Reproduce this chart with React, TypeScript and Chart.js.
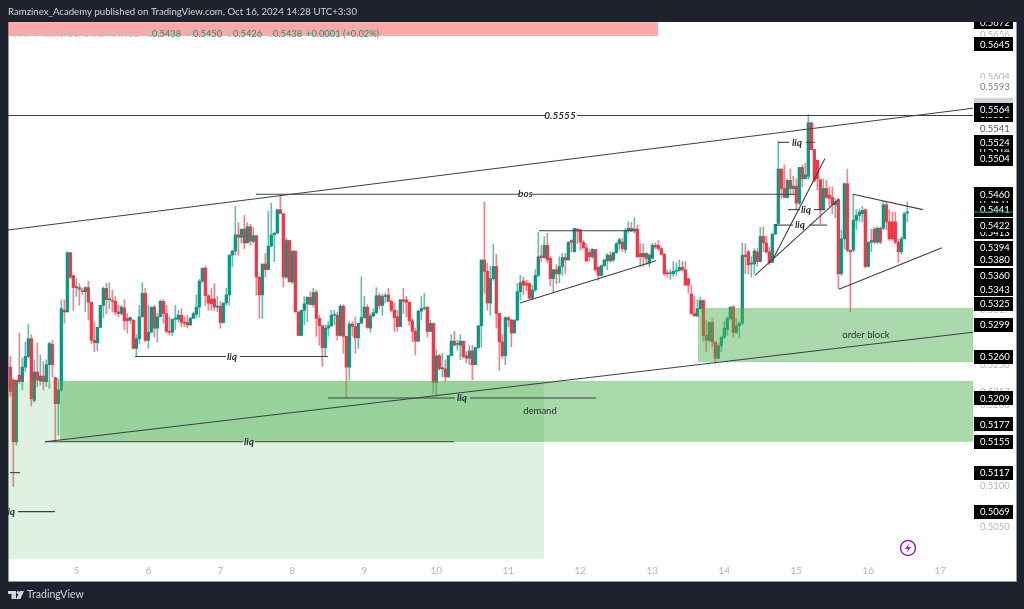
import React, { useEffect, useRef } from "react";
import { Chart, registerables } from "chart.js";

Chart.register(...registerables);

// Hourly candles of XRP / TetherUS, in units of 0.0001 USDT
const opens = [
  5247,5231,5155,5237,5229,5247,5260,5282,5206,5241, 5230,5236,5229,5250,5275,5234,5202,5219,5317,5315,
  5388,5360,5345,5345,5341,5340,5345,5327,5280,5277, 5296,5323,5344,5330,5329,5328,5315,5313,5320,5307,
  5305,5305,5270,5282,5309,5338,5280,5290,5321,5295, 5309,5328,5313,5291,5290,5306,5306,5311,5302,5302,
  5299,5307,5312,5321,5353,5369,5335,5331,5331,5321, 5322,5302,5326,5336,5385,5390,5410,5407,5417,5400,
  5420,5402,5409,5358,5336,5374,5367,5396,5410,5412, 5441,5436,5358,5403,5352,5390,5315,5286,5317,5325,
  5333,5324,5339,5307,5298,5271,5295,5298,5311,5311, 5286,5322,5285,5247,5300,5297,5283,5301,5308,5321,
  5295,5310,5314,5335,5323,5334,5336,5328,5317,5309, 5297,5330,5330,5327,5304,5291,5279,5316,5319,5321,
  5291,5301,5228,5261,5245,5245,5235,5261,5279,5275, 5274,5279,5261,5258,5267,5250,5271,5298,5379,5365,
  5326,5356,5371,5313,5278,5261,5308,5305,5289,5305, 5340,5353,5350,5350,5332,5342,5360,5384,5382,5397,
  5381,5356,5367,5362,5371,5382,5379,5403,5389,5417, 5416,5401,5394,5388,5383,5392,5370,5360,5372,5378,
  5385,5379,5388,5399,5401,5392,5415,5418,5416,5417, 5387,5383,5387,5375,5381,5397,5397,5393,5386,5363,
  5362,5362,5365,5366,5370,5367,5356,5337,5313,5310, 5319,5329,5286,5280,5302,5278,5258,5273,5284,5293,
  5307,5321,5290,5298,5301,5385,5389,5374,5374,5389, 5377,5408,5400,5389,5376,5411,5424,5491,5467,5456,
  5477,5467,5470,5449,5493,5479,5482,5548,5515,5502, 5478,5441,5467,5459,5456,5447,5453,5362,5405,5473,
  5391,5391,5428,5434,5436,5441,5371,5401,5417,5401, 5418,5418,5447,5426,5426,5426,5401,5389,5405,5437,
];
const closes = [
  5217,5155,5231,5229,5247,5260,5282,5208,5241,5231, 5236,5229,5250,5276,5250,5202,5219,5319,5315,5388,
  5358,5345,5346,5343,5340,5345,5327,5280,5277,5296, 5323,5344,5330,5331,5328,5315,5313,5321,5304,5304,
  5308,5270,5282,5309,5338,5280,5290,5321,5295,5309, 5328,5313,5291,5290,5306,5306,5311,5302,5301,5299,
  5307,5313,5321,5353,5369,5335,5326,5325,5321,5322, 5302,5326,5336,5385,5390,5410,5407,5417,5400,5420,
  5402,5409,5358,5336,5374,5367,5396,5410,5412,5441, 5436,5358,5403,5352,5390,5315,5286,5317,5325,5333,
  5324,5339,5307,5298,5271,5295,5298,5311,5311,5286, 5322,5285,5247,5300,5297,5283,5301,5308,5321,5296,
  5310,5314,5335,5323,5334,5334,5328,5317,5308,5297, 5330,5328,5327,5304,5291,5279,5316,5319,5320,5291,
  5301,5228,5261,5245,5245,5235,5261,5279,5274,5275, 5279,5260,5258,5267,5250,5271,5298,5379,5365,5326,
  5356,5371,5313,5278,5261,5308,5305,5289,5305,5340, 5351,5348,5348,5332,5342,5360,5383,5382,5397,5379,
  5356,5367,5362,5371,5382,5379,5401,5401,5418,5415, 5401,5394,5378,5383,5392,5367,5360,5372,5379,5385,
  5378,5388,5399,5404,5393,5415,5418,5415,5417,5383, 5383,5387,5381,5385,5397,5395,5393,5386,5362,5362,
  5362,5365,5366,5370,5367,5348,5348,5313,5310,5319, 5329,5286,5280,5302,5278,5258,5273,5284,5295,5307,
  5321,5290,5298,5301,5385,5383,5373,5374,5390,5377, 5408,5400,5389,5376,5411,5423,5491,5467,5456,5477,
  5467,5470,5449,5493,5479,5484,5548,5515,5477,5479, 5441,5467,5456,5455,5447,5451,5362,5405,5473,5391,
  5389,5428,5434,5438,5440,5371,5401,5403,5401,5418, 5401,5447,5426,5405,5405,5401,5389,5405,5436,5438,
];
const highs = [
  5260,5233,5231,5289,5258,5278,5300,5287,5256,5277, 5262,5254,5256,5278,5280,5235,5233,5330,5330,5389,
  5388,5360,5356,5350,5344,5346,5353,5327,5302,5296, 5323,5346,5350,5351,5342,5334,5323,5323,5330,5313,
  5309,5305,5287,5323,5351,5344,5323,5321,5323,5313, 5330,5330,5323,5309,5306,5323,5317,5319,5309,5311,
  5309,5315,5336,5355,5369,5372,5336,5344,5350,5334, 5328,5326,5344,5385,5391,5445,5425,5417,5434,5425,
  5423,5419,5409,5358,5374,5387,5439,5449,5413,5441, 5459,5436,5406,5403,5390,5390,5315,5317,5334,5334,
  5340,5344,5342,5311,5299,5299,5303,5317,5317,5315, 5324,5324,5285,5303,5303,5309,5301,5358,5334,5324,
  5313,5319,5345,5338,5337,5338,5344,5330,5326,5317, 5330,5344,5334,5327,5307,5295,5317,5334,5338,5321,
  5305,5301,5269,5263,5264,5256,5262,5287,5291,5280, 5287,5279,5266,5274,5274,5272,5298,5379,5450,5375,
  5371,5398,5386,5313,5287,5309,5309,5306,5305,5350, 5360,5358,5354,5351,5348,5367,5413,5397,5408,5412,
  5383,5367,5373,5383,5387,5387,5401,5404,5418,5418, 5417,5403,5399,5392,5393,5392,5371,5373,5380,5387,
  5389,5389,5401,5406,5406,5418,5426,5425,5431,5422, 5399,5399,5388,5387,5399,5400,5403,5395,5387,5367,
  5367,5377,5375,5379,5377,5377,5356,5348,5334,5330, 5333,5330,5305,5303,5307,5278,5276,5284,5303,5309,
  5321,5323,5307,5303,5400,5399,5391,5383,5393,5393, 5419,5420,5408,5395,5411,5423,5525,5491,5496,5479,
  5491,5482,5479,5493,5496,5498,5558,5549,5515,5502, 5478,5479,5477,5469,5469,5455,5455,5416,5474,5491,
  5391,5460,5441,5442,5445,5442,5401,5417,5419,5420, 5420,5451,5451,5441,5438,5438,5405,5408,5438,5450,
];
const lows = [
  5211,5100,5151,5227,5219,5241,5258,5199,5204,5223, 5225,5219,5223,5221,5235,5155,5163,5217,5301,5315,
  5356,5317,5334,5323,5336,5315,5305,5276,5266,5267, 5295,5308,5313,5319,5315,5311,5309,5311,5293,5289,
  5301,5270,5260,5276,5309,5278,5270,5289,5284,5278, 5309,5301,5289,5287,5286,5293,5303,5297,5297,5295,
  5298,5307,5308,5309,5351,5323,5317,5317,5317,5315, 5295,5301,5323,5323,5371,5385,5385,5400,5393,5400,
  5397,5400,5336,5307,5307,5358,5367,5395,5377,5412, 5436,5346,5356,5352,5350,5315,5286,5286,5299,5303,
  5324,5321,5285,5274,5248,5261,5285,5297,5299,5280, 5285,5264,5209,5231,5285,5264,5270,5301,5307,5295,
  5290,5309,5313,5319,5311,5326,5328,5315,5291,5291, 5297,5313,5309,5299,5278,5262,5278,5305,5317,5284,
  5291,5215,5213,5243,5235,5229,5234,5261,5273,5268, 5256,5258,5252,5250,5231,5250,5270,5272,5338,5317,
  5311,5354,5295,5243,5258,5250,5297,5272,5295,5304, 5330,5336,5341,5331,5330,5340,5358,5377,5381,5375,
  5347,5338,5350,5351,5360,5362,5379,5389,5389,5399, 5391,5393,5377,5377,5381,5365,5354,5359,5371,5367,
  5376,5377,5387,5391,5389,5388,5412,5414,5412,5382, 5371,5371,5373,5371,5380,5393,5391,5385,5360,5358,
  5355,5359,5360,5365,5365,5348,5338,5312,5310,5309, 5318,5279,5266,5278,5272,5252,5257,5266,5282,5286,
  5305,5284,5288,5283,5299,5362,5362,5358,5362,5371, 5377,5389,5387,5373,5376,5410,5423,5455,5456,5455,
  5459,5459,5441,5447,5469,5479,5479,5514,5475,5465, 5424,5441,5455,5445,5436,5431,5344,5360,5393,5389,
  5315,5389,5416,5426,5426,5369,5370,5389,5399,5399, 5399,5416,5416,5403,5403,5399,5376,5386,5405,5426,
];

const firstCandleDay = 5 - 22 / 24;
const dayTicks = [5, 6, 7, 8, 9, 10, 11, 12, 13, 14, 15, 16, 17];
const greyPriceTicks = [0.5656, 0.5604, 0.525, 0.5217, 0.52, 0.5317, 0.515, 0.51, 0.505];
const whitePriceTags = [0.5593, 0.5541];
const blankPriceTag = 0.557;
const hiddenPriceTags = [0.5672, 0.5558, 0.5514, 0.5451, 0.5413];
const frontPriceTags = [
  0.5645, 0.5564, 0.5524, 0.5504, 0.546, 0.5441, 0.5422, 0.5394, 0.538, 0.536, 0.5343, 0.5325,
  0.5299, 0.526, 0.5209, 0.5177, 0.5155, 0.5117, 0.5069,
];
const lastClose = 0.5438;

// [fromDay, toDay, topPrice, bottomPrice]
const redZone = [4.051, 13.079, 0.5672, 0.5655];
const paleDemandZone = [4.051, 11.495, 0.523, 0.5011];
const demandZone = [4.773, 17.454, 0.523, 0.5155];
const orderBlockZone = [13.634, 17.454, 0.532, 0.5253];

// Drawn segments: [day1, price1, day2, price2]
const drawnSegments = [
  [4.051, 0.5557, 11.523, 0.5557],
  [11.954, 0.5557, 17.454, 0.5557],
  [4.051, 0.5416, 17.454, 0.5566],
  [7.495, 0.546, 11.148, 0.546],
  [11.329, 0.546, 14.98, 0.546],
  [4.565, 0.5155, 17.454, 0.529],
  [5.815, 0.526, 7.079, 0.526],
  [7.273, 0.526, 8.495, 0.526],
  [8.495, 0.5209, 10.259, 0.5209],
  [10.467, 0.5209, 12.218, 0.5209],
  [4.565, 0.5155, 7.315, 0.5155],
  [7.482, 0.5155, 10.245, 0.5155],
  [4.19, 0.5069, 4.704, 0.5069],
  [4.079, 0.5117, 4.218, 0.5117],
  [14.745, 0.5524, 14.898, 0.5524],
  [15.134, 0.5524, 15.259, 0.5524],
  [14.884, 0.5441, 15.051, 0.5441],
  [15.245, 0.5441, 15.398, 0.5441],
  [14.704, 0.5422, 14.954, 0.5422],
  [15.176, 0.5422, 15.426, 0.5422],
  [14.426, 0.536, 15.592, 0.5454],
  [14.675, 0.538, 15.398, 0.5504],
  [11.426, 0.5415, 12.773, 0.5415],
  [11.162, 0.5326, 13.05, 0.5378],
  [15.786, 0.546, 16.758, 0.5441],
  [15.592, 0.5343, 17.023, 0.5394],
];

// [text, day, price]
const italicNotes: [string, number, number][] = [
  ["0.5555", 11.718, 0.5557],
  ["bos", 11.238, 0.546],
  ["liq", 7.162, 0.526],
  ["liq", 10.356, 0.5209],
  ["liq", 7.398, 0.5155],
  ["liq", 4.079, 0.5069],
  ["liq", 15.009, 0.5524],
  ["liq", 15.134, 0.5441],
  ["liq", 15.051, 0.5422],
];
const plainNotes: [string, number, number][] = [
  ["demand", 11.44, 0.5193],
  ["order block", 15.967, 0.5287],
];

const titleText = "Ramzinex_Academy published on TradingView.com, Oct 16, 2024 14:28 UTC+3:30";
const legendSymbol = "XRP / TetherUS, 1h, BINANCE";
const legendValues = [
  ["O", "0.5438"],
  ["H", "0.5450"],
  ["L", "0.5426"],
  ["C", "0.5438"],
];
const legendChange = "+0.0001 (+0.02%)";

const UP = "#089981";
const DOWN = "#f23645";
const UP_WICK = "rgba(8,153,129,0.62)";
const DOWN_WICK = "rgba(242,54,69,0.62)";
const FONT = 'Lato, sans-serif';

const stylePlugin = {
  id: "tvFrame",
  beforeDraw(chart: any) {
    const c = chart.ctx;
    c.save();
    c.fillStyle = "#1e222d";
    c.fillRect(0, 0, 1024, 609);
    c.fillStyle = "#ffffff";
    c.fillRect(8, 22, 1008, 559);
    c.strokeStyle = "#9598a1";
    c.lineWidth = 1;
    c.beginPath();
    c.moveTo(8.5, 22);
    c.lineTo(8.5, 581.5);
    c.lineTo(1016.5, 581.5);
    c.lineTo(1016.5, 22);
    c.stroke();
    c.restore();
  },
  afterDatasetDraw(chart: any, args: any) {
    if (chart.data.datasets[args.index].label !== "bodies") return;
    const c = chart.ctx;
    const { x, y } = chart.scales;
    const zone = (z: number[], col: string) => {
      c.fillStyle = col;
      const l = x.getPixelForValue(z[0]);
      const t = y.getPixelForValue(z[2]);
      c.fillRect(l, t, x.getPixelForValue(z[1]) - l, y.getPixelForValue(z[3]) - t);
    };
    c.save();
    zone(paleDemandZone, "rgba(76,175,80,0.18)");
    zone(demandZone, "rgba(76,175,80,0.48)");
    zone(orderBlockZone, "rgba(76,175,80,0.48)");
    zone(redZone, "rgba(255,82,82,0.5)");
    c.restore();
  },
  afterDraw(chart: any) {
    const c = chart.ctx;
    const { x, y } = chart.scales;
    const area = chart.chartArea;
    c.save();

    // notes placed on the chart
    c.save();
    c.beginPath();
    c.rect(area.left, area.top, area.right - area.left, area.bottom - area.top);
    c.clip();
    c.textAlign = "center";
    c.textBaseline = "middle";
    c.fillStyle = "#2a2e39";
    c.font = `italic 700 10px ${FONT}`;
    italicNotes.forEach(([t, d, p]) => c.fillText(t, x.getPixelForValue(d), y.getPixelForValue(p)));
    c.font = `9.5px ${FONT}`;
    plainNotes.forEach(([t, d, p]) => c.fillText(t, x.getPixelForValue(d), y.getPixelForValue(p)));
    c.restore();

    // price tags
    c.save();
    c.beginPath();
    c.rect(973, 22, 43, 559);
    c.clip();
    const tag = (p: number, bg: string, fg: string) => {
      const py = y.getPixelForValue(p);
      c.fillStyle = bg;
      c.fillRect(974, Math.round(py) - 7, 39, 14);
      c.fillStyle = fg;
      c.textAlign = "left";
      c.textBaseline = "middle";
      c.font = `9.5px ${FONT}`;
      c.fillText(p.toFixed(4), 980, py + 0.5);
    };
    whitePriceTags.forEach((p, i) => tag(p, "#ffffff", i === 0 ? "#787b86" : "#50535e"));
    tag(blankPriceTag, "#d1d4dc", "#d1d4dc");
    hiddenPriceTags.forEach((p) => tag(p, "#000000", "#ffffff"));
    frontPriceTags.forEach((p) => tag(p, "#000000", "#ffffff"));
    c.fillStyle = UP;
    c.fillRect(974, Math.round(y.getPixelForValue(lastClose)) - 0.5, 39, 1);
    c.restore();

    // header
    c.textBaseline = "middle";
    c.textAlign = "left";
    c.fillStyle = "#d1d4dc";
    c.font = `9.65px ${FONT}`;
    c.fillText(titleText, 8, 12);

    // legend row
    c.font = `9.3px ${FONT}`;
    c.fillStyle = "#bdbfc6";
    c.fillText(legendSymbol, 14.5, 33.5);
    const starts = [146, 187, 227, 267];
    legendValues.forEach(([k, v], i) => {
      c.fillStyle = "#bdbfc6";
      c.fillText(k, starts[i], 33.5);
      c.fillStyle = UP;
      c.fillText(v, starts[i] + 6, 33.5);
    });
    c.fillStyle = UP;
    c.fillText(legendChange, 306, 33.5);

    // footer logo
    c.fillStyle = "#d1d4dc";
    c.fillRect(8, 591, 8, 3);
    c.fillRect(11.5, 591, 4.5, 8);
    c.beginPath();
    c.arc(18.2, 592.6, 1.6, 0, Math.PI * 2);
    c.fill();
    c.beginPath();
    c.moveTo(20, 591);
    c.lineTo(24, 591);
    c.lineTo(20.5, 599);
    c.lineTo(16, 599);
    c.closePath();
    c.fill();
    c.font = `10.5px ${FONT}`;
    c.fillStyle = "#d1d4dc";
    c.fillText("TradingView", 27, 595);

    // bolt badge
    c.strokeStyle = "#9c27b0";
    c.fillStyle = "#9c27b0";
    c.lineWidth = 1.5;
    c.beginPath();
    c.arc(908, 548, 7.5, 0, Math.PI * 2);
    c.stroke();
    c.beginPath();
    c.moveTo(909.5, 543);
    c.lineTo(905, 549);
    c.lineTo(908, 549);
    c.lineTo(906.5, 553);
    c.lineTo(911, 547);
    c.lineTo(908, 547);
    c.closePath();
    c.fill();
    c.restore();
  },
};

export default function App() {
  const ref = useRef<HTMLCanvasElement | null>(null);
  useEffect(() => {
    document.body.style.margin = "0";
    document.body.style.background = "#1e222d";
    const days = opens.map((_, i) => firstCandleDay + i / 24);
    const bodyColors = opens.map((o, i) => (closes[i] >= o ? UP : DOWN));
    const wickColors = opens.map((o, i) => (closes[i] >= o ? UP_WICK : DOWN_WICK));
    const chart = new Chart(ref.current as HTMLCanvasElement, {
      type: "bar",
      plugins: [stylePlugin],
      data: {
        datasets: [
          {
            label: "wicks",
            order: 3,
            grouped: false,
            barThickness: 1,
            backgroundColor: wickColors,
            borderWidth: 0,
            data: days.map((d, i) => ({ x: d, y: [lows[i] / 10000, highs[i] / 10000] })),
          },
          {
            label: "bodies",
            order: 2,
            grouped: false,
            barThickness: 2.6,
            minBarLength: 1,
            backgroundColor: bodyColors,
            borderWidth: 0,
            data: days.map((d, i) => ({ x: d, y: [opens[i] / 10000, closes[i] / 10000] })),
          },
          ...drawnSegments.map((s) => ({
            type: "line",
            order: 1,
            borderColor: "#3d4048",
            borderWidth: 1.1,
            pointRadius: 0,
            data: [
              { x: s[0], y: s[1] },
              { x: s[2], y: s[3] },
            ],
          })),
        ],
      } as any,
      options: {
        responsive: false,
        animation: false,
        events: [],
        layout: { padding: { left: 8, top: 22, right: 8, bottom: 28 } },
        plugins: { legend: { display: false }, tooltip: { enabled: false }, title: { display: false } },
        scales: {
          x: {
            type: "linear",
            offset: false,
            min: 4.051,
            max: 17.454,
            grid: { display: false, drawTicks: false },
            border: { display: false },
            afterBuildTicks: (s: any) => {
              s.ticks = dayTicks.map((value) => ({ value }));
            },
            afterFit: (s: any) => {
              s.height = 22;
            },
            ticks: {
              autoSkip: false,
              maxRotation: 0,
              padding: 6,
              color: "#b2b5be",
              font: { family: "Lato", size: 10 },
              callback: (v: any) => String(v),
            },
          },
          y: {
            type: "linear",
            position: "right",
            min: 0.50106,
            max: 0.56722,
            grid: { display: false, drawTicks: false },
            border: { display: false },
            afterBuildTicks: (s: any) => {
              s.ticks = greyPriceTicks.map((value) => ({ value }));
            },
            afterFit: (s: any) => {
              s.width = 43;
            },
            ticks: {
              autoSkip: false,
              padding: 7,
              color: "#b2b5be",
              font: { family: "Lato", size: 9.5 },
              callback: (v: any) => Number(v).toFixed(4),
            },
          },
        },
      } as any,
    });
    return () => chart.destroy();
  }, []);
  return <canvas ref={ref} width={1024} height={609} style={{ display: "block" }} />;
}
